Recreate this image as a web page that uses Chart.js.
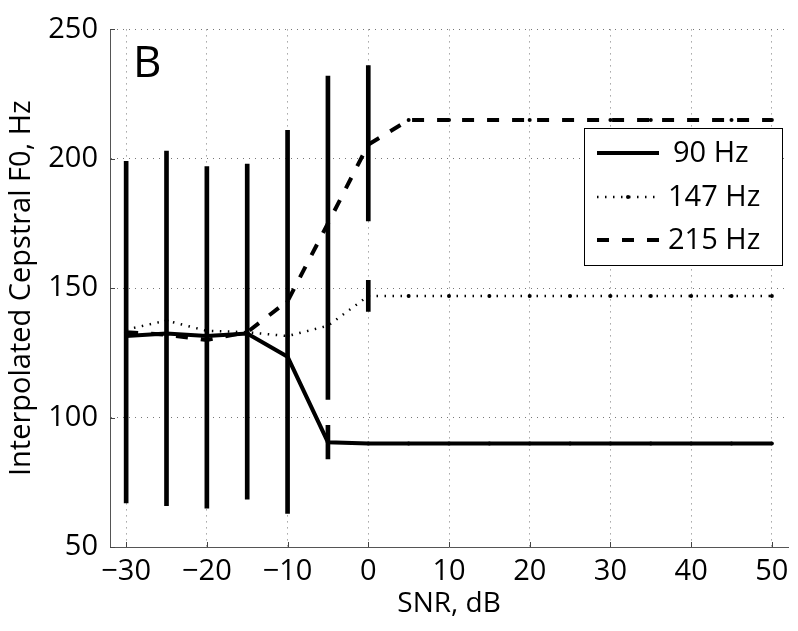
<!DOCTYPE html>
<html>
<head>
<meta charset="utf-8">
<script src="https://cdn.jsdelivr.net/npm/chart.js@4"></script>
<style>
  html, body { margin: 0; background: #fff; }
  #wrap { width: 798px; height: 631px; }
</style>
</head>
<body>
<div id="wrap"><canvas id="chart"></canvas></div>
<script>
// SNR steps (dB)
const snr = [-30, -25, -20, -15, -10, -5, 0, 5, 10, 15, 20, 25, 30, 35, 40, 45, 50];

// interpolated cepstral F0 per true F0 condition
const f0_90  = [131.5, 132.5, 131.5, 132.5, 123.5, 90.5, 90, 90, 90, 90, 90, 90, 90, 90, 90, 90, 90];
const f0_147 = [134, 137.5, 133.5, 133, 131.5, 135.5, 147, 147, 147, 147, 147, 147, 147, 147, 147, 147, 147];
const f0_215 = [133, 132, 130, 133, 145, 175, 205.5, 215, 215, 215, 215, 215, 215, 215, 215, 215, 215];

// error bars [low, high], indexed like snr
const err90  = [[67, 199], [66, 203], [65, 197], [68.5, 198], [63, 211], [84, 97]];
const err147 = [null, null, null, null, null, null, [141, 153]];
const err215 = [null, null, null, null, null, [107, 232], [176, 236]];

const xTicks = [-30, -20, -10, 0, 10, 20, 30, 40, 50];
const yTicks = [50, 100, 150, 200, 250];

const seriesNames = ['90 Hz', '147 Hz', '215 Hz'];
const FONT = 'Open Sans';

const toPoints = ys => snr.map((x, i) => ({ x, y: ys[i] }));
const toBars = errs => errs.map((e, i) => e ? { x: snr[i], y: e } : null).filter(Boolean);

function lineSet(label, ys, width, dash) {
    return {
        type: 'line',
        label,
        data: toPoints(ys),
        borderColor: '#000',
        backgroundColor: '#000',
        borderWidth: width,
        borderDash: dash,
        pointRadius: 2,
        pointBorderWidth: 0,
        pointBackgroundColor: '#000',
        tension: 0,
        order: 1
    };
}

function errSet(errs) {
    return {
        type: 'bar',
        label: 'err',
        data: toBars(errs),
        backgroundColor: '#000',
        borderWidth: 0,
        barThickness: 4,
        grouped: false,
        order: 2
    };
}

const datasets = [
    lineSet(seriesNames[0], f0_90, 4, []),
    lineSet(seriesNames[1], f0_147, 2.5, [1.5, 6.5]),
    lineSet(seriesNames[2], f0_215, 4, [12, 13]),
    errSet(err90),
    errSet(err147),
    errSet(err215)
];

const extras = {
    id: 'extras',
    afterDraw(chart) {
        const { ctx, chartArea: a, scales: { x, y } } = chart;
        ctx.save();

        // inner tick marks
        ctx.strokeStyle = '#444';
        ctx.lineWidth = 1;
        ctx.beginPath();
        xTicks.forEach(v => {
            const px = Math.round(x.getPixelForValue(v)) + 0.5;
            ctx.moveTo(px, a.bottom);
            ctx.lineTo(px, a.bottom - 5);
        });
        yTicks.forEach(v => {
            const py = Math.round(y.getPixelForValue(v)) + 0.5;
            ctx.moveTo(a.left, py);
            ctx.lineTo(a.left + 5, py);
        });
        ctx.stroke();

        // panel letter
        ctx.fillStyle = '#000';
        ctx.font = `44px "${FONT}"`;
        ctx.textBaseline = 'alphabetic';
        ctx.textAlign = 'left';
        ctx.fillText('B', 133, 77);

        // legend
        const bx = 584, by = 128, bw = 198, bh = 137;
        ctx.fillStyle = '#fff';
        ctx.fillRect(bx, by, bw, bh);
        ctx.strokeStyle = '#000';
        ctx.lineWidth = 1;
        ctx.strokeRect(bx + 0.5, by + 0.5, bw, bh);

        const rows = [153, 197, 240];
        ctx.font = `29px "${FONT}"`;
        ctx.textBaseline = 'middle';
        for (let i = 0; i < 3; i++) {
            const ds = chart.data.datasets[i];
            const ry = rows[i];
            ctx.strokeStyle = '#000';
            ctx.lineWidth = ds.borderWidth;
            ctx.setLineDash(ds.borderDash);
            ctx.beginPath();
            ctx.moveTo(597, ry);
            ctx.lineTo(659, ry);
            ctx.stroke();
            ctx.setLineDash([]);
            if (i === 1) {
                ctx.fillStyle = '#000';
                ctx.beginPath();
                ctx.arc(628, ry, 2, 0, Math.PI * 2);
                ctx.fill();
            }
            ctx.fillStyle = '#000';
            ctx.fillText(ds.label, i === 0 ? 673 : 668, ry + 1);
        }
        ctx.restore();
    }
};

new Chart(document.getElementById('chart'), {
    type: 'line',
    data: { datasets },
    options: {
        responsive: true,
        maintainAspectRatio: false,
        animation: false,
        layout: { padding: { top: 17, right: 10, left: 0, bottom: 0 } },
        plugins: { legend: { display: false }, tooltip: { enabled: false } },
        scales: {
            x: {
                type: 'linear',
                min: -32,
                max: 52,
                offset: false,
                afterBuildTicks: s => { s.ticks = xTicks.map(v => ({ value: v })); },
                afterFit: s => { s.height = 84; },
                ticks: {
                    color: '#000',
                    padding: 7,
                    maxRotation: 0,
                    font: { family: FONT, size: 29 },
                    callback: v => String(v).replace('-', '\u2212')
                },
                grid: { color: '#777', lineWidth: 1, drawTicks: false, offset: false },
                border: { color: '#555', width: 1, dash: [1, 5] },
                title: {
                    display: true,
                    text: 'SNR, dB',
                    color: '#000',
                    font: { family: FONT, size: 28 },
                    padding: { top: 0, bottom: 10 }
                }
            },
            y: {
                type: 'linear',
                min: 50,
                max: 250,
                afterBuildTicks: s => { s.ticks = yTicks.map(v => ({ value: v })); },
                afterFit: s => { s.width = 110; },
                ticks: {
                    color: '#000',
                    padding: 12,
                    font: { family: FONT, size: 29 }
                },
                grid: { color: '#777', lineWidth: 1, drawTicks: false },
                border: { color: '#555', width: 1, dash: [1, 5] },
                title: {
                    display: true,
                    text: 'Interpolated Cepstral F0, Hz',
                    color: '#000',
                    font: { family: FONT, size: 29 },
                    padding: { top: 4, bottom: 0 }
                }
            }
        }
    },
    plugins: [extras]
});
</script>
</body>
</html>
